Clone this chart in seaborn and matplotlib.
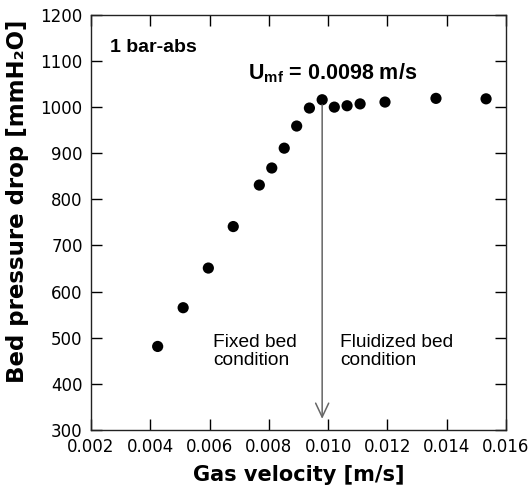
import numpy as np
import pandas as pd
import matplotlib
matplotlib.use('Agg')
import matplotlib.pyplot as plt
import seaborn as sns

# gas velocity [m/s] and bed pressure drop [mmH2O]
velocity = [0.00425, 0.00511, 0.00596, 0.0068, 0.00768, 0.0081, 0.00852,
            0.00894, 0.00937, 0.0098, 0.01021, 0.01064, 0.01108, 0.01192,
            0.01364, 0.01533]
pressure = [481, 565, 651, 741, 831, 868, 911, 959, 998, 1016, 1000, 1003,
            1007, 1011, 1019, 1018]
u_mf = 0.0098

x_ticks = [0.002, 0.004, 0.006, 0.008, 0.010, 0.012, 0.014, 0.016]
y_ticks = [300, 400, 500, 600, 700, 800, 900, 1000, 1100, 1200]

df = pd.DataFrame({'velocity': velocity, 'pressure': pressure})

sns.set_style('ticks')
plt.rcParams['font.family'] = ['DejaVu Sans']
plt.rcParams['mathtext.fontset'] = 'custom'
plt.rcParams['mathtext.bf'] = 'Liberation Sans:bold'
plt.rcParams['mathtext.rm'] = 'Liberation Sans:bold'

fig = plt.figure(figsize=(5.32, 4.97), dpi=100)
ax = fig.add_axes([0.171, 0.135, 0.780, 0.835])

sns.scatterplot(data=df, x='velocity', y='pressure', color='black',
                s=65, edgecolor='none', ax=ax, zorder=3)

ax.set_xlim(0.002, 0.016)
ax.set_ylim(300, 1200)
ax.set_xticks(x_ticks)
ax.set_xticklabels(['%.3f' % v for v in x_ticks])
ax.set_yticks(y_ticks)
ax.tick_params(direction='in', length=8, width=1, top=True, right=True,
               labelsize=12, colors='black', pad=6)
for sp in ax.spines.values():
    sp.set_visible(True)
    sp.set_color('#222222')
    sp.set_linewidth(1)

ax.set_xlabel('Gas velocity [m/s]', fontsize=15, fontweight='bold',
              labelpad=6, color='black')
ax.set_ylabel('Bed pressure drop [mmH₂O]', fontsize=16.5, fontweight='bold',
              color='black')
ax.yaxis.set_label_coords(-0.15, 0.55)

# arrow at minimum fluidization velocity
ax.annotate('', xy=(u_mf, 324), xytext=(u_mf, 1005),
            arrowprops=dict(arrowstyle='->,head_length=0.5,head_width=0.235',
                            color='#666666', lw=1.1, mutation_scale=20,
                            shrinkA=0, shrinkB=0))

ax.text(0.00263, 1130, '1 bar-abs', family='Liberation Sans', fontweight='bold',
        fontsize=14, va='center', ha='left', color='black')
ax.text(0.0073, 1074, r'U$_{\mathbf{mf}}$ = 0.0098 m/s', family='Liberation Sans',
        fontweight='bold', fontsize=15.5, va='center', ha='left', color='black')
ax.text(0.00612, 470, 'Fixed bed\ncondition', family='Liberation Sans',
        fontsize=13.8, va='center', ha='left', linespacing=1.1, color='black')
ax.text(0.0104, 470, 'Fluidized bed\ncondition', family='Liberation Sans',
        fontsize=13.8, va='center', ha='left', linespacing=1.1, color='black')

fig.savefig('out.png', dpi=100)
